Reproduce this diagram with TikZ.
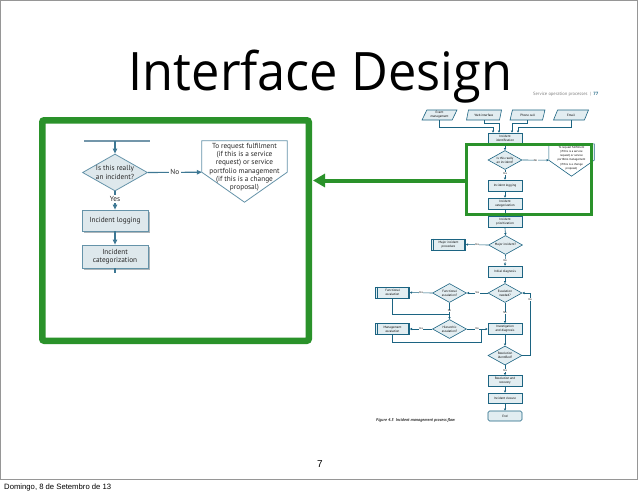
\documentclass[tikz,border=0pt]{standalone}
\usepackage{fontspec}
\setmainfont{Liberation Sans}
\newfontfamily\titlefam{Open Sans}
\newfontfamily\chartfam{PT Sans}
\usetikzlibrary{arrows.meta,shapes.geometric,shadows}

\definecolor{slidegreen}{RGB}{42,146,42}
\definecolor{flowline}{RGB}{28,100,130}
\definecolor{flowfill}{RGB}{226,237,241}
\definecolor{zline}{RGB}{62,120,148}
\definecolor{ztop}{RGB}{115,150,170}
\definecolor{zfill}{RGB}{222,232,236}
\definecolor{zshadow}{RGB}{175,182,186}
\definecolor{ztext}{RGB}{40,40,40}
\definecolor{framegray}{RGB}{150,150,150}

\newcommand{\myzf}{\chartfam\fontsize{7.3}{8.3}\selectfont}
\newcommand{\myrf}{\chartfam\fontsize{3.2}{3.9}\selectfont}
\newcommand{\myrlf}{\chartfam\fontsize{2.7}{3}\selectfont}

\tikzset{
  zarr/.style={draw=zline, line width=1.1pt, -{Triangle[length=5pt,width=4.5pt]}},
  zln/.style={draw=zline, line width=1.1pt},
  zbox/.style={draw=zline!80, fill=zfill, line width=0.8pt, minimum width=66pt, minimum height=22pt,
     inner sep=1pt, align=center, font=\myzf, text=ztext,
     drop shadow={shadow xshift=2pt, shadow yshift=-2pt, fill=zshadow, opacity=1}},
  zdia/.style={diamond, draw=zline!80, fill=zfill, line width=0.8pt, minimum width=65pt, minimum height=37pt, inner sep=0pt},
  ztxt/.style={font=\myzf, text=ztext, align=center, inner sep=0pt},
  zlab/.style={font=\myzf, text=ztext, fill=white, inner sep=1.5pt},
  rbox/.style={draw=flowline, fill=flowfill, line width=0.6pt, minimum width=34pt, minimum height=11pt,
     inner sep=0.5pt, align=center, font=\myrf, text=black},
  rdia/.style={diamond, draw=flowline, fill=flowfill, line width=0.6pt, minimum width=34pt, minimum height=19pt, inner sep=0pt},
  rtxt/.style={font=\myrf, text=black, align=center, inner sep=0pt},
  rpar/.style={trapezium, trapezium left angle=63, trapezium right angle=117, trapezium stretches=true,
     draw=flowline, fill=flowfill, line width=0.6pt, minimum width=35pt, minimum height=10pt,
     inner sep=0pt, font=\myrf, align=center},
  rarr/.style={draw=flowline, line width=0.6pt, -{Triangle[length=2.2pt,width=2.2pt]}},
  rln/.style={draw=flowline, line width=0.6pt},
  rlab/.style={font=\myrlf, text=black, fill=white, inner sep=0.4pt},
}
\newcommand{\rdiam}[3]{\node[rdia] (#1) at (#2) {}; \node[rtxt] (#1-t) at (#1) {#3};}
\newcommand{\rdbl}[1]{\draw[rln] ([xshift=2pt]#1.north west) -- ([xshift=2pt]#1.south west);
  \draw[rln] ([xshift=-2pt]#1.north east) -- ([xshift=-2pt]#1.south east);}

\begin{document}
\begin{tikzpicture}[x=1pt,y=-1pt]
\useasboundingbox (0,0) rectangle (638,491);
\fill[white] (0,0) rectangle (638,491);
\draw[framegray, line width=0.8pt] (0.4,0.4) rectangle (637.6,479.5);

% title and page texts
\node[font=\titlefam\fontsize{53}{60}\selectfont, anchor=base, inner sep=0pt] (title) at (320.5,90) {\scalebox{0.953}[1]{Interface Design}};
\node[anchor=base west, inner sep=0pt, font=\chartfam\fontsize{4.6}{5}\selectfont, text=gray] (svc) at (533,95)
  {Service operation processes\enspace|\enspace\textcolor{flowline}{\bfseries 77}};
\node[font=\fontsize{10}{12}\selectfont, inner sep=0pt] (pg) at (320,464) {7};
\node[anchor=base west, font=\fontsize{7.7}{9}\selectfont, inner sep=0pt] (date) at (4,489) {Domingo, 8 de Setembro de 13};

% ===== right flowchart =====
\node[rpar] (ev) at (439.5,115) {Event\\management};
\node[rpar] (web) at (484,115) {Web interface};
\node[rpar] (phone) at (527.5,115) {Phone call};
\node[rpar] (email) at (571,115) {Email};
\node[rbox] (iid) at (505,138.5) {Incident\\identification};
\draw[rarr] (ev.south) |- ([xshift=-12pt,yshift=5pt]iid.north) -- ([xshift=-12pt]iid.north);
\draw[rarr] (web.south) |- ([xshift=-6pt,yshift=9pt]iid.north) -- ([xshift=-6pt]iid.north);
\draw[rarr] (phone.south) |- ([xshift=7pt,yshift=9pt]iid.north) -- ([xshift=7pt]iid.north);
\draw[rarr] (email.south) |- ([xshift=13pt,yshift=5pt]iid.north) -- ([xshift=13pt]iid.north);

\rdiam{isinc}{505,160}{Is this really\\an incident?}
\draw[rarr] (iid.south) -- (isinc.north);
\node[minimum width=45pt, minimum height=16pt, inner sep=0pt] (rreq) at (571.5,152) {};
\draw[rln, fill=white] (rreq.north west) -- (rreq.north east) -- (rreq.south east) -- ([yshift=-16pt]rreq.south) -- (rreq.south west) -- cycle;
\node[font=\chartfam\fontsize{2.9}{4.2}\selectfont, align=center, inner sep=0pt] (rreq-t) at (571.5,158)
  {To request fulfilment\\(if this is a service\\request) or service\\portfolio management\\(if this is a change\\proposal)};
\draw[rarr] (isinc.east) -- node[rlab]{No} (rreq.south west);

\node[rbox] (log) at (505,185.5) {Incident logging};
\draw[rarr] (isinc.south) -- node[rlab, pos=0.4]{Yes} (log.north);
\node[rbox] (cat) at (505,203.5) {Incident\\categorization};
\draw[rarr] (log.south) -- (cat.north);
\node[rbox] (prio) at (505,222) {Incident\\prioritization};
\draw[rarr] (cat.south) -- (prio.north);
\rdiam{major}{505.5,245}{Major incident?}
\draw[rarr] (prio.south) -- (major.north);
\node[rbox] (mip) at (448.5,244.5) {Major incident\\procedure};
\rdbl{mip}
\draw[rarr] (major.west) -- node[rlab]{Yes} (mip.east);
\node[rbox] (diag) at (505,271.5) {Initial diagnosis};
\draw[rarr] (major.south) -- node[rlab]{No} (diag.north);

\rdiam{esc}{505,293}{Escalation\\needed?}
\draw[rarr] (diag.south) -- (esc.north);
\rdiam{fesc}{449.5,293}{Functional\\escalation?}
\draw[rarr] (esc.west) -- node[rlab]{Yes} (fesc.east);
\node[rbox] (fe) at (392.5,292.5) {Functional\\escalation};
\rdbl{fe}
\draw[rarr] (fesc.west) -- node[rlab]{Yes} (fe.east);
\rdiam{hesc}{449.5,329}{Hierarchic\\escalation?}
\draw[rarr] (fesc.south) -- node[rlab]{No} (hesc.north);
\draw[rln] (fe.south) |- ([yshift=5pt]hesc.north);
\node[rbox] (me) at (392.5,329) {Management\\escalation};
\rdbl{me}
\draw[rarr] (hesc.west) -- node[rlab]{Yes} (me.east);
\node[rbox] (inv) at (505,329) {Investigation\\and diagnosis};
\draw[rarr] (hesc.east) -- node[rlab]{No} (inv.west);
\draw[rln] (me.south) |- ([xshift=-6pt,yshift=-7pt]inv.south west) -- ([xshift=-6pt]inv.west);
\draw[rarr] (esc.south) -- node[rlab]{No} (inv.north);
\rdiam{res}{505,355.5}{Resolution\\identified?}
\draw[rarr] (inv.south) -- (res.north);
\draw[rarr] (res.east) -- ++(8,0) |- node[rlab, pos=0.45]{No} (esc.east);
\node[rbox] (rr) at (505,381) {Resolution and\\recovery};
\draw[rarr] (res.south) -- node[rlab]{Yes} (rr.north);
\node[rbox, minimum height=10pt] (clo) at (505,398) {Incident closure};
\draw[rarr] (rr.south) -- (clo.north);
\node[rbox, minimum height=10pt, rounded corners=1.5pt] (end) at (505,416) {End};
\draw[rarr] (clo.south) -- (end.north);
\node[anchor=base west, inner sep=0pt, font=\chartfam\itshape\bfseries\fontsize{4.2}{5}\selectfont, text=black!80] (cap) at (376,421.5)
  {Figure 4.3\enspace Incident management process flow};

% right green box and arrow
\draw[slidegreen, line width=3pt] (466.5,144.5) rectangle (591.5,214.5);
\coordinate (garrS) at (465,180.5);
\coordinate (garrE) at (313,180.5);
\draw[slidegreen, line width=4pt, -{Triangle[length=12pt,width=13pt]}] (garrS) -- (garrE);

% ===== left zoomed panel =====
\draw[slidegreen, line width=6.5pt, rounded corners=2pt] (42.25,120.25) rectangle (308.75,340.75);
\coordinate (ztl) at (84,141);
\coordinate (ztr) at (150,141);
\coordinate (ztm) at (115,141);
\draw[ztop, line width=1.6pt] (ztl) -- (ztr);
\node[zdia] (zd) at (115,172.5) {};
\node[ztxt] (zd-t) at (zd) {Is this really\\an incident?};
\draw[zarr] (ztm) -- (zd.north);
\node[minimum width=85pt, minimum height=31pt, inner sep=0pt] (zreq) at (244.5,156.5) {};
\draw[draw=zline!80, line width=0.8pt, fill=white] (zreq.north west) -- (zreq.north east) -- (zreq.south east) -- ([yshift=-30pt]zreq.south) -- (zreq.south west) -- cycle;
\node[ztxt] (zreq-t) at (244.5,167.3)
  {To request fulfilment\\(if this is a service\\request) or service\\portfolio management\\(if this is a change\\proposal)};
\draw[zarr] (zd.east) -- node[zlab]{No} (zreq.south west);
\node[zbox, minimum height=21pt] (zlog) at (115,220.5) {Incident logging};
\draw[zarr] (zd.south) -- node[zlab, pos=0.4]{Yes} (zlog.north);
\node[zbox, minimum height=23pt] (zcat) at (115,256.5) {Incident\\categorization};
\draw[zarr] (zlog.south) -- (zcat.north);
\coordinate (zbot) at (115,273);
\draw[zln] (zcat.south) -- (zbot);
\end{tikzpicture}
\end{document}
